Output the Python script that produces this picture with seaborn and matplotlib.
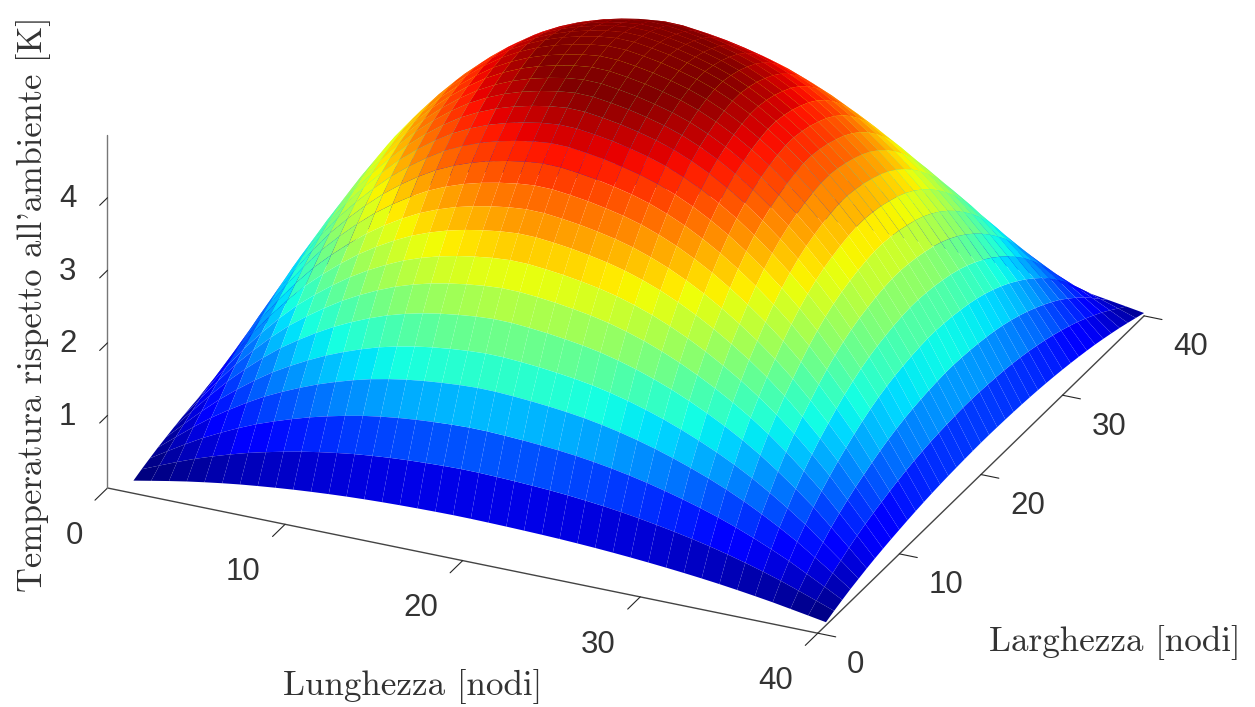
import numpy as np
import matplotlib
matplotlib.use("Agg")
import matplotlib.pyplot as plt
import seaborn as sns
from mpl_toolkits.mplot3d import proj3d

# nodi della griglia
nodi_lunghezza = list(range(1, 41))
nodi_larghezza = list(range(1, 41))

# profili (il campo e' il prodotto dei due profili)
profilo_lunghezza = [0.090, 0.192, 0.292, 0.386, 0.470, 0.548, 0.619, 0.680, 0.736, 0.787,
                     0.831, 0.870, 0.904, 0.931, 0.953, 0.970, 0.983, 0.993, 0.999, 0.998,
                     0.991, 0.982, 0.970, 0.956, 0.938, 0.915, 0.888, 0.856, 0.820, 0.779,
                     0.734, 0.685, 0.631, 0.571, 0.504, 0.432, 0.355, 0.268, 0.180, 0.090]
profilo_larghezza = [0.096, 0.204, 0.299, 0.389, 0.464, 0.539, 0.604, 0.661, 0.714, 0.760,
                     0.805, 0.845, 0.880, 0.910, 0.935, 0.955, 0.970, 0.983, 0.992, 0.998,
                     0.998, 0.992, 0.983, 0.970, 0.955, 0.935, 0.910, 0.880, 0.845, 0.805,
                     0.760, 0.710, 0.655, 0.595, 0.525, 0.450, 0.370, 0.280, 0.185, 0.090]
temperatura_max = 4.87
colore_max = 4.63

tick_xy = [0, 10, 20, 30, 40]
tick_z = [1, 2, 3, 4]

W, H = 1255, 707

sns.set_theme(style="white")
plt.rcParams["font.family"] = ["Liberation Sans", "DejaVu Sans"]
plt.rcParams["axes.unicode_minus"] = False

fig = plt.figure(figsize=(W / 100, H / 100), dpi=100)
ax = fig.add_subplot(projection="3d", proj_type="ortho")
ax.view_init(elev=26.48, azim=-65.37)
ax.set_box_aspect((780.5, 782, 394.4))

X, Y = np.meshgrid(nodi_lunghezza, nodi_larghezza)
Z = temperatura_max * np.outer(profilo_larghezza, profilo_lunghezza)

# ogni cella prende il colore del suo primo vertice
norm = plt.Normalize(Z.min(), colore_max, clip=True)
colori = plt.get_cmap("jet")(norm(Z))
ax.plot_surface(X, Y, Z, facecolors=colori, rstride=1, cstride=1, linewidth=0,
                antialiased=True, shade=False)

ax.set_xlim(0, 40, view_margin=0)
ax.set_ylim(0, 40, view_margin=0)
ax.set_zlim(0, 4.87, view_margin=0)
ax.set_xticks(tick_xy)
ax.set_yticks(tick_xy)
ax.set_zticks(tick_z)
ax.set_xticklabels([])
ax.set_yticklabels([])
ax.set_zticklabels([])
ax.zaxis.set_ticks_position("lower")
ax.grid(False)
ax.patch.set_alpha(0)

tacche = {"x": 0.48, "y": 0.315, "z": 0.30}
for nome, asse in zip("xyz", [ax.xaxis, ax.yaxis, ax.zaxis]):
    asse.set_pane_color((1, 1, 1, 0))
    asse.pane.set_edgecolor((1, 1, 1, 0))
    asse.line.set_color("#777777" if nome == "z" else "#444444")
    asse.line.set_linewidth(1.0)
    asse._axinfo["tick"]["inward_factor"] = tacche[nome]
    asse._axinfo["tick"]["outward_factor"] = 0
    asse._axinfo["tick"]["linewidth"] = {True: 0.8, False: 0.8}
    asse._axinfo["tick"]["color"] = "#444444"


def to_px(xs, ys, zs):
    ax.apply_aspect()
    px, py, _ = proj3d.proj_transform(xs, ys, zs, ax.get_proj())
    return ax.transData.transform((px, py))


# porta l'origine e l'asse x sui pixel del riferimento
side = 1255.0
ax.set_position([0, 0, side / W, side / H])
fig.canvas.draw()
a, b = to_px(0, 0, 0), to_px(40, 0, 0)
side *= 725.0 / np.hypot(*(b - a))
ax.set_position([0, 0, side / W, side / H])
fig.canvas.draw()
a = to_px(0, 0, 0)
ax.set_position([(107.5 - a[0]) / W, ((H - 488) - a[1]) / H, side / W, side / H])
fig.canvas.draw()


def tick_label(xs, ys, zs, testo, ha):
    px = to_px(xs, ys, zs)
    fig.text(px[0] / W, px[1] / H, testo, fontsize=22.5, color="#333333", ha=ha, va="center")


# etichette dei tick
for t in tick_xy:
    tick_label(t, -3.0, -0.33, str(t), "right")
    tick_label(41.65, t, -0.35, str(t), "left")
for t in tick_z:
    tick_label(-1.75, 0, t - 0.11, str(t), "right")

label_font = ["cmr10", "DejaVu Serif"]
fig.text(413 / W, 1 - 686 / H, "Lunghezza [nodi]", family=label_font, fontsize=25.3,
         color="#333333", ha="center", va="center")
fig.text(1115 / W, 1 - 643 / H, "Larghezza [nodi]", family=label_font, fontsize=25.3,
         color="#333333", ha="center", va="center")
fig.text(34 / W, 1 - 304 / H, "Temperatura rispetto all'ambiente [K]", family=label_font,
         fontsize=24.8, color="#333333", rotation=90, ha="center", va="center")

fig.savefig("out.png", dpi=100)
